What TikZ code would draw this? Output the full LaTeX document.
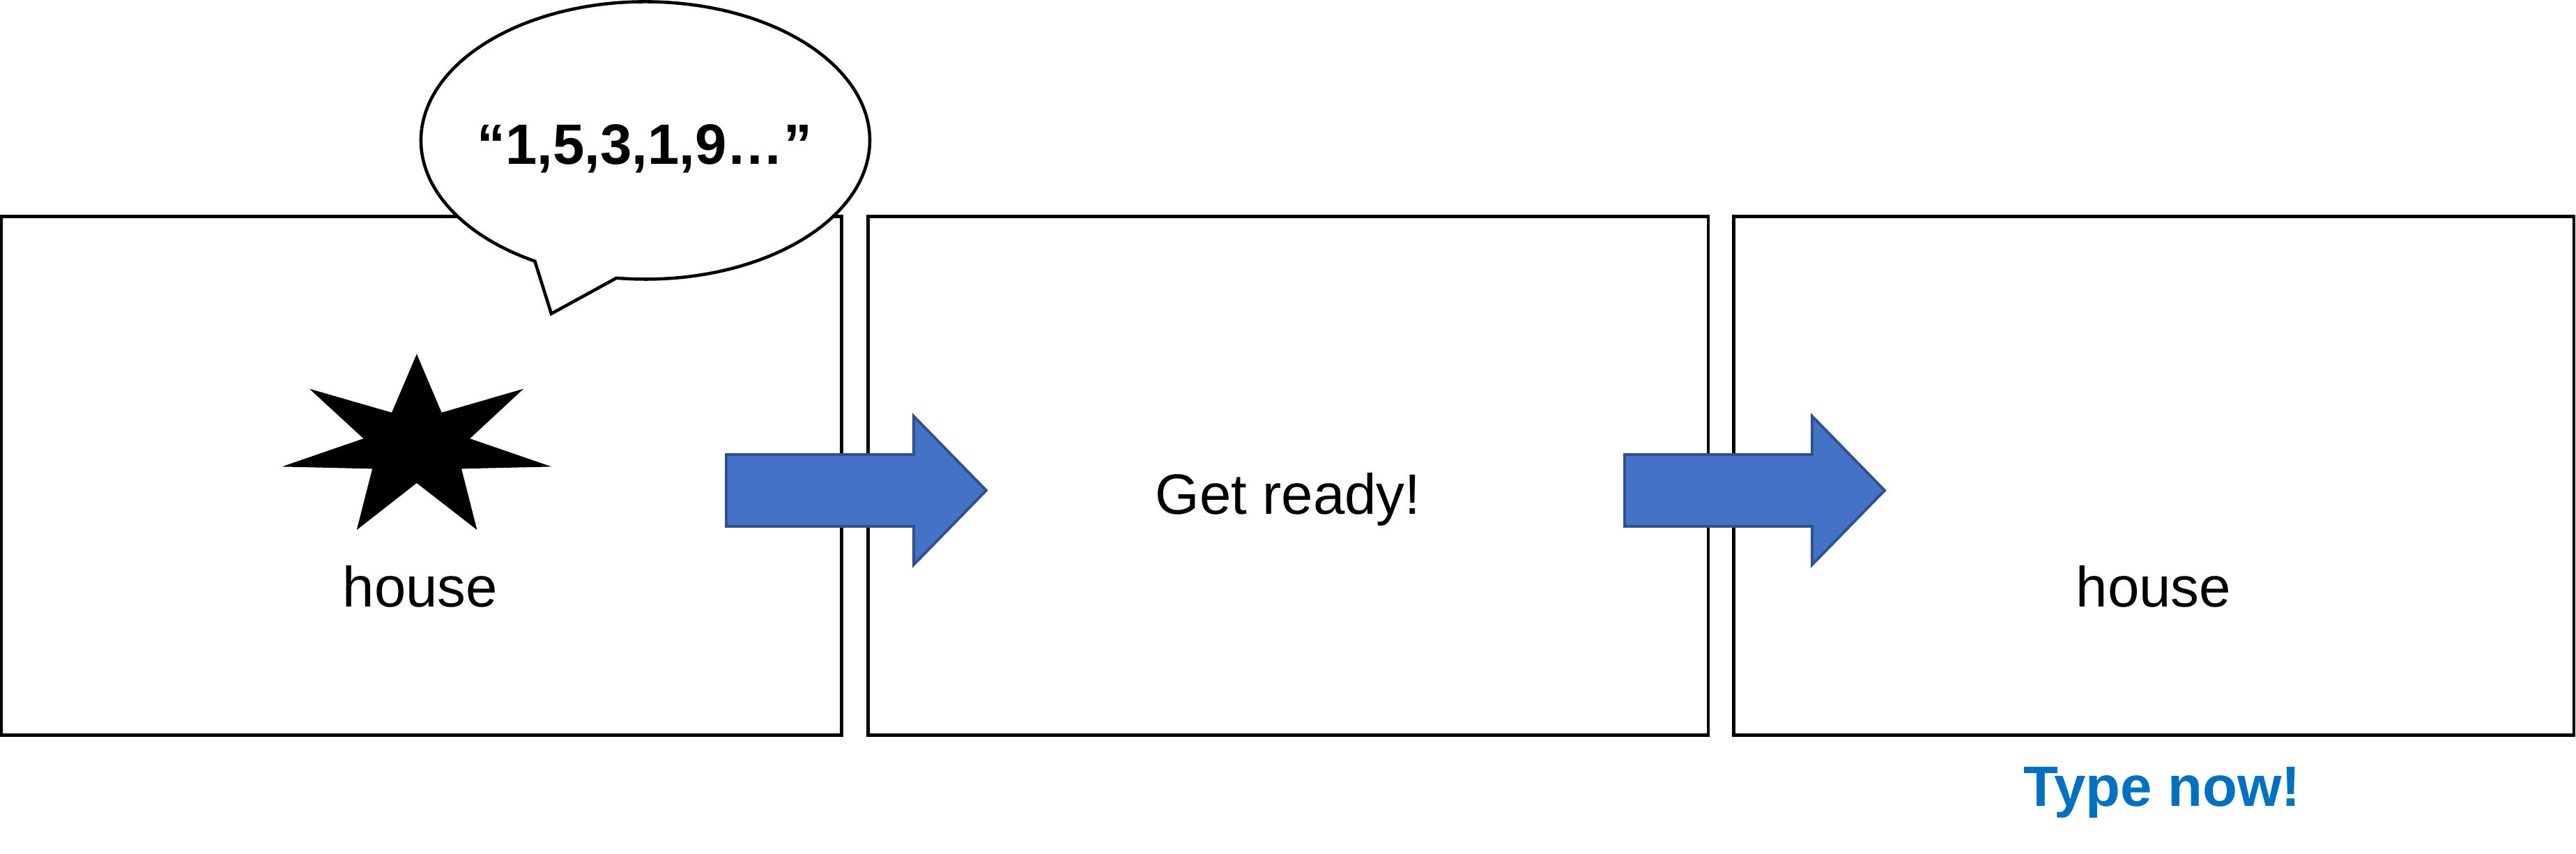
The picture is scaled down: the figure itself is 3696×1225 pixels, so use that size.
\documentclass[tikz,border=0pt]{standalone}
\usepackage{fontspec}
\setmainfont{Liberation Sans}
\definecolor{arrowblue}{HTML}{4472C4}
\definecolor{arrowedge}{HTML}{2F528F}
\definecolor{typeblue}{HTML}{0070C0}
\begin{document}
\begin{tikzpicture}[x=0.01cm,y=-0.01cm,
  frame/.style={draw=black,line width=1.35pt,fill=white,minimum width=12.05cm,minimum height=7.43cm,inner sep=0pt,outer sep=0pt},
  lbl/.style={font=\fontsize{23.2}{28}\selectfont,inner sep=0pt,anchor=base},
  boldlbl/.style={font=\fontsize{23.2}{28}\selectfont\bfseries,inner sep=0pt,anchor=base},
  bigarrow/.style={draw=arrowedge,fill=arrowblue,line width=1.1pt,line join=miter},
  bubble/.style={draw=black,fill=white,line width=1.3pt,line join=miter}]
\useasboundingbox (0,0) rectangle (3696,1225);
% frames
\node[frame] (b1) at (604.5,682.5) {};
\node[frame] (b2) at (1848,682.5) {};
\node[frame] (b3) at (3090,682.5) {};
% star (seven points)
\fill[black] (597.9,507.7) -- (633.6,591.8) -- (751.2,557.7) -- (674.2,629.1) -- (791.2,669.4)
  -- (662.1,672.4) -- (684.5,760.2) -- (597.9,692.9) -- (511.8,760.2) -- (534.2,672.4)
  -- (404.5,669.4) -- (521.5,629.1) -- (443.9,557.7) -- (562.1,591.8) -- cycle;
% speech bubble
\coordinate (tip) at (791,450);
\draw[bubble] (884.5,398.8) arc[start angle=97.4,end angle=-240.5,x radius=322,y radius=199] -- (tip) -- cycle;
\node[boldlbl] (say) at (925,236) {“1,5,3,1,9…”};
% arrows
\foreach \dx/\nm in {0/a1,1289/a2}{
  \begin{scope}[shift={(\dx,0)}]
  \draw[bigarrow] (1042,652) -- (1311,652) -- (1311,597) -- (1415,703.5) -- (1311,810) -- (1311,755) -- (1042,755) -- cycle;
  \coordinate (\nm) at (1415,703.5);
  \end{scope}
}
% labels
\node[lbl] (h1) at (603,870) {house};
\node[lbl] (gr) at (1848,738) {Get ready!};
\node[lbl] (h3) at (3090,870) {house};
\node[boldlbl,text=typeblue] (tn) at (3102,1156) {Type now!};
\end{tikzpicture}
\end{document}
